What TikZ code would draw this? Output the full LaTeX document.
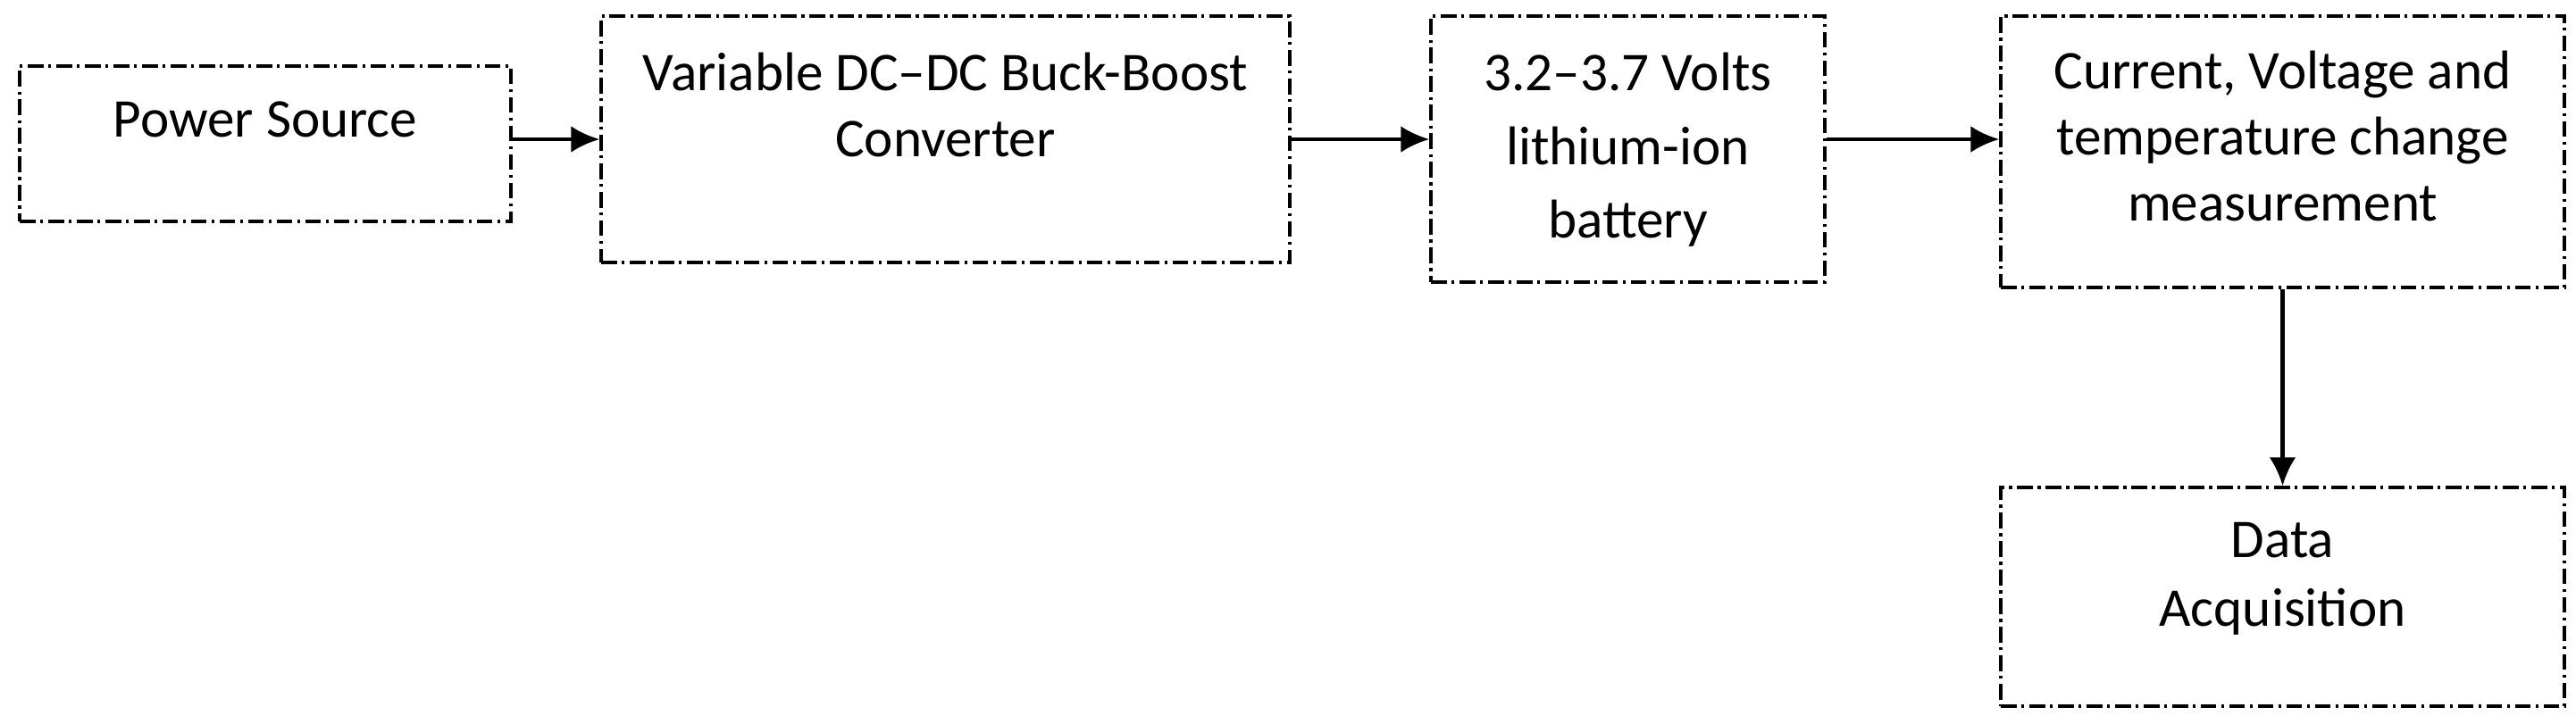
\documentclass[tikz,border=0pt]{standalone}
\usepackage{fontspec}
\setmainfont{Carlito}
\usepackage{tikz}
\usetikzlibrary{arrows.meta,positioning,calc}

\begin{document}
\begin{tikzpicture}[>={Latex[length=3.2mm,width=3mm]},node distance=1.3cm]
  \tikzstyle{block}=[draw,line width=1pt,dash pattern=on 5pt off 1.6pt on 0.9pt off 1.6pt,inner sep=0pt]
  \tikzstyle{txt}=[align=center,inner sep=0pt,font=\fontsize{17.4}{21}\selectfont]
  \useasboundingbox (0,0) rectangle (28.84,-8.10);
  \node[block,minimum width=5.50cm,minimum height=1.74cm] (pwr) at (2.97,-1.61) {};
  \node[block,minimum width=7.71cm,minimum height=2.76cm] (conv) at (10.585,-1.56) {};
  \node[block,minimum width=4.41cm,minimum height=2.98cm] (batt) at (18.225,-1.67) {};
  \node[block,minimum width=6.31cm,minimum height=3.04cm] (meas) at (25.555,-1.70) {};
  \node[block,minimum width=6.31cm,minimum height=2.45cm] (daq) at (25.555,-6.685) {};
  \node[txt,below=0.41cm of pwr.north] (pwrtxt) {Power Source};
  \node[txt,below=0.42cm of conv.north] (convtxt) {Variable DC--DC Buck-Boost\\Converter};
  \node[txt,below=0.42cm of batt.north] (batttxt) {3.2--3.7 Volts\\[2.5pt]lithium-ion\\[2.5pt]battery};
  \node[txt,below=0.40cm of meas.north] (meastxt) {Current, Voltage and\\temperature change\\measurement};
  \node[txt,below=0.40cm of daq.north] (daqtxt) {Data\\[1pt]Acquisition};
  \draw[->,line width=1.3pt] (pwr.east |- conv.west) -- (conv.west);
  \draw[->,line width=1.3pt] (conv.east) -- (conv.east -| batt.west);
  \draw[->,line width=1.3pt] (batt.east |- conv.east) -- (conv.east -| meas.west);
  \draw[->,line width=1.3pt] (meas.south) -- (daq.north);
\end{tikzpicture}
\end{document}
